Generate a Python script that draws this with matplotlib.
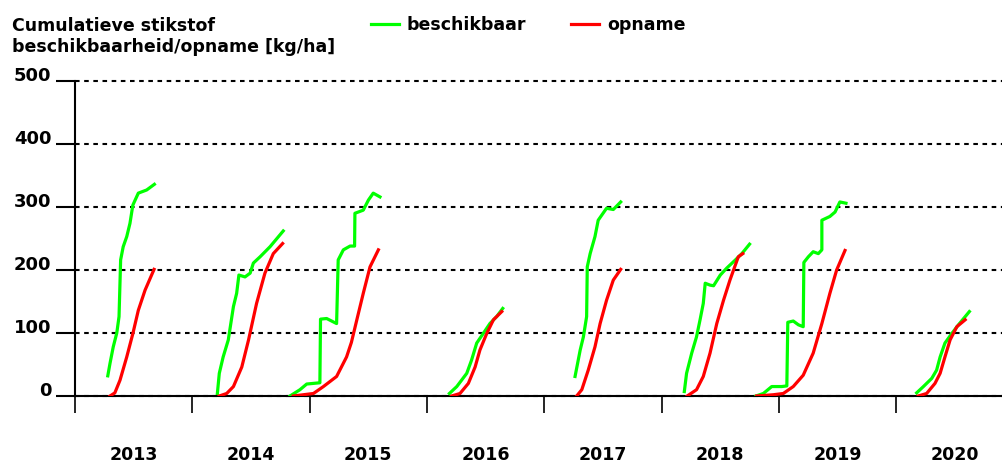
#Import libraries
import matplotlib
matplotlib.use("Agg")
import matplotlib.pyplot as plt
import matplotlib.transforms as mtransforms

plt.rcParams['font.family'] = ['DejaVu Sans']
plt.rcParams['font.weight'] = 'bold'

#Years on the x axis
jaren = [2013, 2014, 2015, 2016, 2017, 2018, 2019, 2020]

#Cumulative available nitrogen (day of year, kg/ha)
beschikbaar_dag = {
    2013: [102, 109, 119, 130, 137, 142, 150, 161, 171, 180, 197, 223, 247],
    2014: [78, 84, 96, 112, 128, 138, 145, 164, 180, 190, 211, 242, 283],
    2015: [-61, -30, -9, 32, 34, 53, 84, 89, 105, 126, 140, 141, 167, 183, 198, 219],
    2016: [70, 93, 124, 139, 155, 175, 196, 217, 236],
    2017: [96, 112, 122, 132, 134, 143, 158, 168, 194, 215, 238],
    2018: [71, 78, 94, 109, 120, 130, 136, 151, 162, 183, 203, 230, 250, 274],
    2019: [-71, -48, -22, 9, 25, 28, 45, 61, 76, 78, 92, 107, 123, 134, 134, 159, 175, 190, 209],
    2020: [64, 85, 111, 126, 137, 152, 173, 194, 228],
}
beschikbaar_kg = {
    2013: [32, 52, 78, 100, 126, 216, 237, 253, 274, 303, 322, 327, 336],
    2014: [4, 36, 62, 89, 142, 163, 192, 189, 195, 211, 221, 237, 262],
    2015: [0, 10, 19, 21, 122, 123, 115, 216, 232, 238, 238, 290, 295, 311, 322, 316],
    2016: [4, 15, 36, 57, 84, 99, 115, 126, 139],
    2017: [31, 73, 94, 126, 205, 226, 253, 279, 298, 296, 308],
    2018: [7, 36, 68, 94, 121, 147, 179, 176, 175, 192, 203, 216, 226, 241],
    2019: [0, 4, 15, 15, 16, 117, 119, 113, 110, 212, 221, 229, 226, 232, 279, 285, 292, 308, 306],
    2020: [5, 15, 28, 41, 62, 84, 99, 113, 134],
}

#Cumulative uptake (day of year, kg/ha)
opname_dag = {
    2013: [109, 124, 140, 161, 180, 197, 218, 246],
    2014: [84, 107, 128, 154, 175, 200, 226, 252, 281],
    2015: [-51, 12, 43, 84, 115, 130, 147, 167, 188, 214],
    2016: [77, 103, 129, 150, 165, 186, 207, 233],
    2017: [101, 117, 137, 158, 174, 194, 215, 238],
    2018: [80, 109, 130, 151, 172, 193, 213, 239, 253],
    2019: [-69, -17, 14, 45, 76, 107, 134, 159, 180, 206],
    2020: [69, 95, 121, 137, 152, 168, 189, 215],
}
opname_kg = {
    2013: [0, 5, 25, 62, 99, 136, 168, 201],
    2014: [0, 4, 15, 46, 89, 147, 195, 226, 242],
    2015: [0, 4, 15, 31, 62, 85, 121, 163, 205, 232],
    2016: [0, 4, 20, 46, 73, 99, 121, 134],
    2017: [0, 10, 41, 78, 115, 152, 184, 201],
    2018: [0, 10, 31, 68, 115, 152, 184, 221, 226],
    2019: [0, 2, 4, 15, 33, 68, 115, 163, 200, 231],
    2020: [0, 4, 20, 36, 62, 89, 110, 121],
}

y_ticks = [0, 100, 200, 300, 400, 500]

#Figure
fig = plt.figure(figsize=(10.02, 4.67), dpi=100)
ax = fig.add_axes([75/1002, 71/467, 927/1002, 315/467])

for jaar in jaren:
    xg = [jaar + d/365 for d in beschikbaar_dag[jaar]]
    xr = [jaar + d/365 for d in opname_dag[jaar]]
    lg, = ax.plot(xg, beschikbaar_kg[jaar], color='#00ff00', lw=2.3, zorder=3)
    lr, = ax.plot(xr, opname_kg[jaar], color='#ff0000', lw=2.3, zorder=4)

ax.set_xlim(2013, 2013 + 927/117.3)
ax.set_ylim(0, 500)

#Axes styling
for s in ['top', 'right']:
    ax.spines[s].set_visible(False)
for s in ['left', 'bottom']:
    ax.spines[s].set_linewidth(1.5)
    ax.spines[s].set_color('black')

ax.set_xticks(jaren)
ax.set_xticklabels([])
ax.tick_params(axis='x', direction='out', length=12.5, width=1.2, color='black')
ax.set_yticks(y_ticks)
ax.set_yticklabels([str(v) for v in y_ticks], fontsize=13, fontweight='bold')
ax.tick_params(axis='y', direction='out', length=14, width=1.5, color='black', pad=3)
for lab in ax.get_yticklabels():
    lab.set_va('baseline')

ax.yaxis.grid(True, color='black', lw=1.5, ls=(0, (2.2, 2.2)))
ax.set_axisbelow(True)
#keep the top gridline at full thickness
for gl in ax.get_ygridlines():
    gl.set_clip_on(False)

#Year labels between ticks
trans = mtransforms.blended_transform_factory(ax.transData, ax.transAxes)
for jaar in jaren:
    ax.text(jaar + 0.5, -59/315, str(jaar), transform=trans, ha='center', va='center',
            fontsize=12.5, fontweight='bold')

#Title
fig.text(12/1002, 1 - 17/467, 'Cumulatieve stikstof\nbeschikbaarheid/opname [kg/ha]',
         ha='left', va='top', fontsize=12.5, fontweight='bold', linespacing=1.2)

#Legend
fig.legend([lg, lr], ['beschikbaar', 'opname'], loc='center left',
           bbox_to_anchor=(371/1002, 1 - 25/467), ncol=2, frameon=False,
           fontsize=12.5, handlelength=1.6, handletextpad=0.45, columnspacing=2.6,
           borderpad=0, borderaxespad=0)

fig.savefig('out.png', dpi=100)
